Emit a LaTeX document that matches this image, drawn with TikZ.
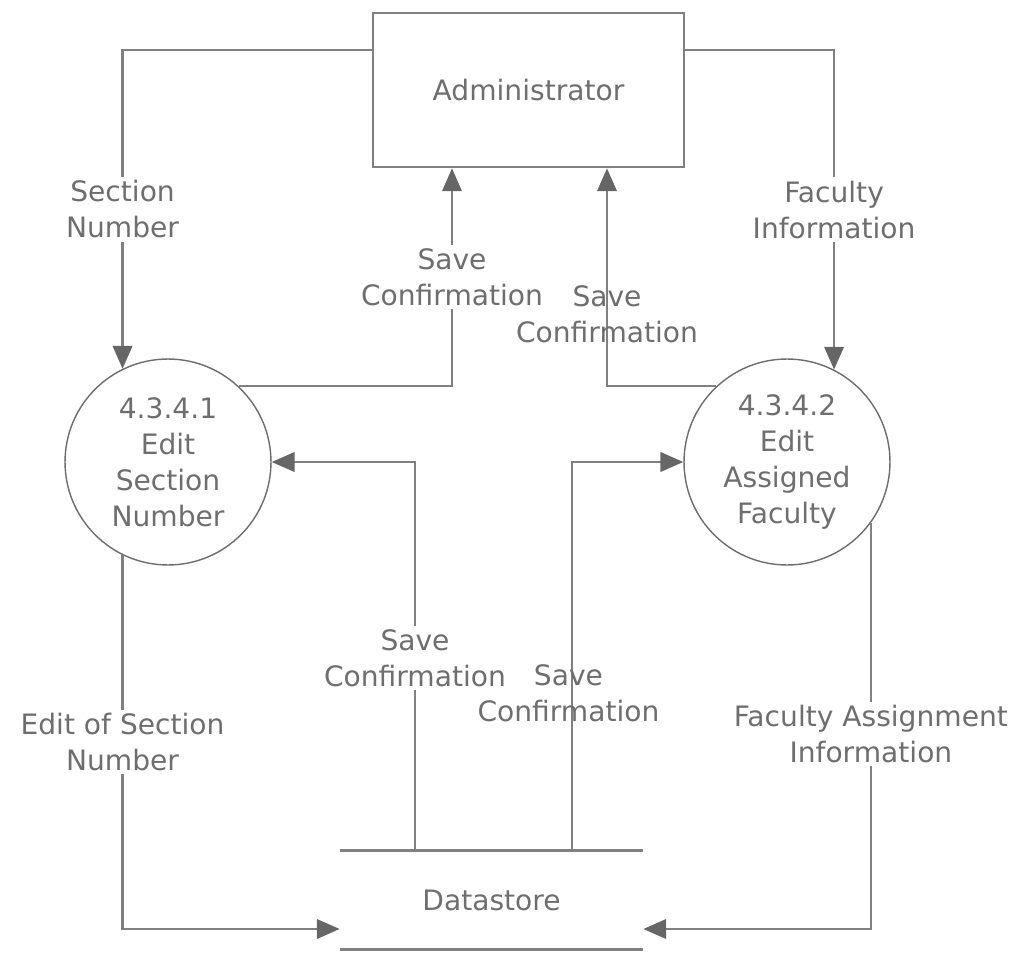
\documentclass[tikz,border=0pt]{standalone}
\usepackage{fontspec}
\setmainfont{DejaVu Sans}
\usetikzlibrary{arrows.meta}
\definecolor{lineG}{HTML}{808080}
\definecolor{tipG}{HTML}{666666}
\definecolor{textG}{HTML}{6E6E6E}
\def\txtS{\fontsize{16}{20.5}\selectfont}
\tikzset{
	entA/.style={
		draw=lineG, line width=1.5pt, minimum width=6.22cm, minimum height=3.08cm,
		text=textG, font=\txtS
	},
	procA/.style={
		draw=lineG!85!black, line width=0.8pt, circle, minimum size=4.12cm,
		inner sep=0pt, align=center, text=textG, font=\txtS
	},
	storeA/.style={minimum width=6.06cm, minimum height=1.96cm, text=textG, font=\txtS},
	flowA/.style={draw=lineG, line width=1.5pt, -{Triangle[length=13pt,width=11pt,color=tipG]}},
	lblA/.style={fill=white, inner sep=2pt, align=center, text=textG, font=\txtS},
	lblB/.style={inner sep=0pt, align=center, text=textG, font=\txtS},
	>=stealth,
}

\begin{document}
\begin{tikzpicture}[x=0.02cm, y=-0.02cm]
\useasboundingbox (0,0) rectangle (1015,963);

\node[entA] (admin) at (528.5,90) {Administrator};
\node[procA] (sec) at (168,462) {4.3.4.1\\Edit\\Section\\Number};
\node[procA] (asg) at (787,462) {4.3.4.2\\Edit\\Assigned\\Faculty};
\node[storeA] (ds) at (491.5,900) {Datastore};
\draw[draw=lineG, line width=1.5pt] (ds.north west) -- (ds.north east)
	(ds.south west) -- (ds.south east);

% administrator <-> processes
\draw[flowA] (admin.west |- 0,50) -| node[lblA, pos=0.75] {Section\\Number} (sec.116.5);
\draw[flowA] (admin.east |- 0,50) -| node[lblA, pos=0.75] {Faculty\\Information} (asg.63.5);
\draw[flowA] (sec.47) -| node[lblA, pos=0.75] {Save\\Confirmation} (admin.south -| 452,0);
\draw[flowA] (asg.133) -| node[lblB, pos=0.666] {Save\\Confirmation} (admin.south -| 607,0);

% datastore <-> processes
\draw[flowA] (ds.north -| 415,0) |- node[lblA, pos=0.248] {Save\\Confirmation} (sec.east);
\draw[flowA] (ds.north -| 572,0) |- node[lblB, pos=0.203, xshift=-2pt] {Save\\Confirmation} (asg.west);
\draw[flowA] (sec.-116.5) |- node[lblA, pos=0.25] {Edit of Section\\Number} (ds.south west |- 0,929);
\draw[flowA] (asg.-36) |- node[lblA, pos=0.26] {Faculty Assignment\\Information} (ds.south east |- 0,929);
\end{tikzpicture}
\end{document}
